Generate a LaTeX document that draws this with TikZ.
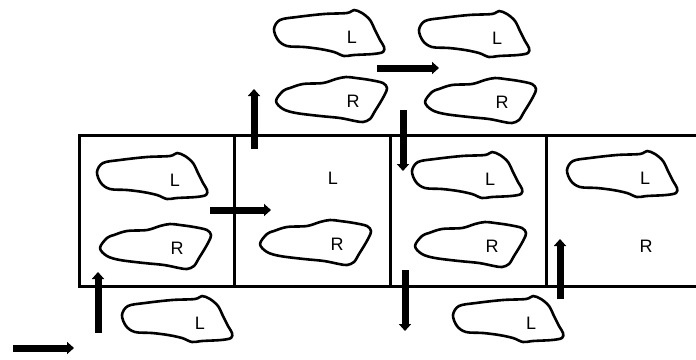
\documentclass[tikz,border=0pt]{standalone}
\usepackage{fontspec}
\setmainfont{Liberation Sans}
\usetikzlibrary{arrows.meta}
\begin{document}
\begin{tikzpicture}[x=1pt,y=-1pt,
  wall/.style={line width=3pt},
  blobline/.style={line width=2.6pt, line join=round},
  tag/.style={inner sep=0pt, font=\fontsize{18}{18}\selectfont},
  move/.style={line width=7pt, -{Triangle[width=12pt,length=7pt]}, shorten >=-1pt},
  blobL/.pic={\draw[blobline] plot[smooth cycle, tension=0.55] coordinates {
      (-78,-8) (-72,-17) (-55,-20) (-28,-23) (-5,-24) (2,-27) (10,-24) (18,-17)
      (23,-7) (28,3) (32,10) (31,15) (21,17) (2,18) (-8,19) (-18,15) (-32,12)
      (-48,10) (-65,9) (-74,3)};},
  blobR/.pic={\draw[blobline] plot[smooth cycle, tension=0.55] coordinates {
      (-77,0) (-70,-10) (-63,-13) (-50,-17) (-30,-18) (-17,-22) (-7,-24) (3,-23)
      (17,-21) (30,-18) (34,-13) (32,-7) (27,2) (22,10) (17,18) (10,21) (2,20)
      (-13,17) (-33,15) (-57,12) (-70,8)};}
]
\useasboundingbox (0,0) rectangle (696,359);

% strip of four cells, open on the right
\draw[wall] (700,135) -- (79,135) -- (79,286) -- (700,286);
\draw[wall] (234.5,135) -- (234.5,286);
\draw[wall] (390.5,135) -- (390.5,286);
\draw[wall] (546.5,135) -- (546.5,286);

% upper pair of blobs, left
\pic at (352,37) {blobL};   \node[tag] (uL1) at (352,37) {L};
\pic at (353,101) {blobR};  \node[tag] (uR1) at (353,101) {R};
% upper pair of blobs, right
\pic at (497,38) {blobL};   \node[tag] (uL2) at (497,38) {L};
\pic at (502,102) {blobR};  \node[tag] (uR2) at (502,102) {R};

% cell 1
\pic at (175,180) {blobL};  \node[tag] (c1L) at (175,180) {L};
\pic at (177,248) {blobR};  \node[tag] (c1R) at (177,248) {R};
% cell 2
\node[tag] (c2L) at (333,178) {L};
\pic at (337,244) {blobR};  \node[tag] (c2R) at (337,244) {R};
% cell 3
\pic at (490,179) {blobL};  \node[tag] (c3L) at (490,179) {L};
\pic at (492,246) {blobR};  \node[tag] (c3R) at (492,246) {R};
% cell 4
\pic at (645,178) {blobL};  \node[tag] (c4L) at (645,178) {L};
\node[tag] (c4R) at (646,246) {R};

% lower blobs
\pic at (200,323) {blobL};  \node[tag] (dL1) at (200,323) {L};
\pic at (531,323) {blobL};  \node[tag] (dL2) at (531,323) {L};

% movement arrows
\coordinate (a1s) at (13,348);   \coordinate (a1e) at (73,348);
\coordinate (a2s) at (98,333);   \coordinate (a2e) at (98,273);
\coordinate (a3s) at (210,210);  \coordinate (a3e) at (270,210);
\coordinate (a4s) at (254,149);  \coordinate (a4e) at (254,90);
\coordinate (a5s) at (377,68);   \coordinate (a5e) at (438,68);
\coordinate (a6s) at (403,110);  \coordinate (a6e) at (403,170);
\coordinate (a7s) at (405,270);  \coordinate (a7e) at (405,330);
\coordinate (a8s) at (560,299);  \coordinate (a8e) at (560,240);
\foreach \k in {1,...,8} \draw[move] (a\k s) -- (a\k e);
\end{tikzpicture}
\end{document}
